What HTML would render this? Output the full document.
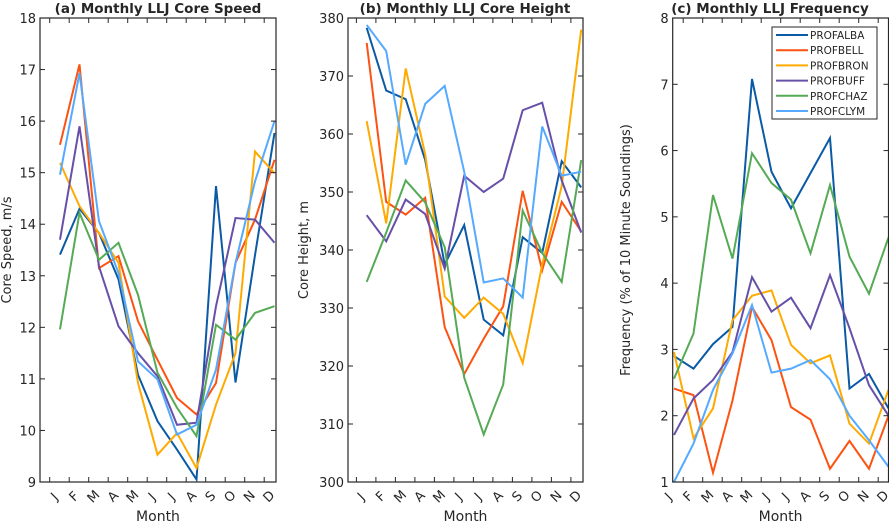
<!DOCTYPE html>
<html><head><meta charset="utf-8"><style>
body{margin:0;background:#fff;width:889px;height:524px;overflow:hidden}
svg text{font-family:"DejaVu Sans","Liberation Sans",sans-serif;fill:#262626}
</style></head><body>
<svg id="chart" width="889" height="524" xmlns="http://www.w3.org/2000/svg"></svg>
<script>
const months = ["J","F","M","A","M","J","J","A","S","O","N","D"];
const stations = ["PROFALBA","PROFBELL","PROFBRON","PROFBUFF","PROFCHAZ","PROFCLYM"];
const colors = ["#0b5aa5","#fc5212","#ffaa00","#6650a8","#55aa55","#55aaff"];
const speedALBA = [13.41,14.30,13.83,12.93,11.08,10.18,9.63,9.05,14.74,10.93,13.4,15.77];
const speedBELL = [15.54,17.10,13.15,13.38,12.12,11.37,10.63,10.31,10.92,13.25,14.09,15.25];
const speedBRON = [15.19,14.35,13.83,13.25,10.92,9.53,9.95,9.27,10.5,11.5,15.41,14.99];
const speedBUFF = [13.70,15.90,13.18,12.02,11.50,11.05,10.11,10.15,12.41,14.12,14.09,13.64];
const speedCHAZ = [11.96,14.22,13.31,13.64,12.63,11.12,10.44,9.89,12.05,11.76,12.28,12.41];
const speedCLYM = [14.96,16.93,14.06,13.05,11.34,10.99,9.92,10.11,11.18,13.25,14.83,16.0];
const heightALBA = [378.3,367.5,366,355.5,337.5,344.3,328,325.3,342.2,339.5,355.3,350.8];
const heightBELL = [375.7,348.3,346.1,349,326.7,318.6,324.7,330.3,350.2,336.5,348.3,343.2];
const heightBRON = [362.2,344.6,371.3,356.5,332,328.3,331.8,329,320.5,337.5,351,378];
const heightBUFF = [346,341.5,348.7,346.2,336.8,352.8,350,352.3,364.1,365.4,352,343];
const heightCHAZ = [334.5,343,352,348.2,340.5,318,308.2,316.8,346.8,339.5,334.5,355.5];
const heightCLYM = [378.8,374.3,354.7,365.2,368.3,353.5,334.4,335.1,331.8,361.3,352.8,353.5];
const freqALBA = [2.90,2.71,3.08,3.34,7.08,5.68,5.13,5.66,6.19,2.41,2.63,2.11];
const freqBELL = [2.41,2.31,1.14,2.23,3.64,3.14,2.13,1.94,1.20,1.62,1.20,2.0];
const freqBRON = [2.96,1.66,2.11,3.44,3.81,3.89,3.07,2.79,2.91,1.88,1.58,2.39];
const freqBUFF = [1.71,2.26,2.54,2.96,4.09,3.57,3.78,3.32,4.12,3.32,2.46,2.0];
const freqCHAZ = [2.56,3.24,5.33,4.37,5.96,5.51,5.26,4.45,5.48,4.40,3.84,4.69];
const freqCLYM = [1.0,1.58,2.39,2.94,3.67,2.65,2.71,2.84,2.55,2.0,1.63,1.23];
const speedTicks = [9,10,11,12,13,14,15,16,17,18];
const heightTicks = [300,310,320,330,340,350,360,370,380];
const freqTicks = [1,2,3,4,5,6,7,8];

const NS="http://www.w3.org/2000/svg";
const svg=document.getElementById('chart');
function mk(tag,attrs,parent){const e=document.createElementNS(NS,tag);for(const k in attrs)e.setAttribute(k,attrs[k]);(parent||svg).appendChild(e);return e;}

function panel(cfg){
  const g=mk('g',{});
  
  
  const top=18,bot=482;
  const y=v=>bot-(v-cfg.ymin)/(cfg.ymax-cfg.ymin)*(bot-top);
  const x=i=>cfg.x0+19.5*i;
  cfg.series.forEach((s,si)=>{
    const p=mk('polyline',{points:s.map((v,i)=>x(i)+','+y(v)).join(' '),fill:'none',stroke:colors[si],'stroke-width':2,'stroke-linejoin':'miter'},g);
    
    
  });
  const box=mk('rect',{x:cfg.left,y:top,width:cfg.right-cfg.left,height:bot-top,fill:'none',stroke:'#262626','stroke-width':1.2},g);
  
  
  for(let k=-1;k<=12;k++){
    const tx=cfg.x0-10.3+19.5*k;
    if(tx<=cfg.left+1||tx>=cfg.right-1)continue;
    mk('line',{x1:tx,x2:tx,y1:bot,y2:bot-5,stroke:'#262626'},g);
    mk('line',{x1:tx,x2:tx,y1:top,y2:top+5,stroke:'#262626'},g);
  }
  months.forEach((m,i)=>{
    const lx=x(i)-5, ly=497;
    const t=mk('text',{x:lx,y:ly,'font-size':13,'text-anchor':'middle','dominant-baseline':'middle',transform:`rotate(-45 ${lx} ${ly})`},g);
    t.textContent=m;
    
    
  });
  cfg.ticks.forEach(v=>{
    const ty=y(v);
    mk('line',{x1:cfg.left,x2:cfg.left+5,y1:ty,y2:ty,stroke:'#262626'},g);
    mk('line',{x1:cfg.right,x2:cfg.right-5,y1:ty,y2:ty,stroke:'#262626'},g);
    const t=mk('text',{x:cfg.left-4,y:ty+5,'font-size':13,'text-anchor':'end'},g);
    t.textContent=v;
    
    
  });
  const xt=mk('text',{x:(cfg.left+cfg.right)/2,y:521,'font-size':14,'text-anchor':'middle'},g);
  xt.textContent='Month';
  
  
  const yt=mk('text',{x:cfg.ylx,y:250,'font-size':13,'text-anchor':'middle',transform:`rotate(-90 ${cfg.ylx} 250)`},g);
  yt.textContent=cfg.ylabel;
  
  
  const tt=mk('text',{x:cfg.tx,y:13,'font-size':13.5,'font-weight':'bold','text-anchor':'middle',fill:'#000'},g);
  tt.textContent=cfg.title;
  
  
}

panel({name:'panel-core-speed',key:'speed',left:40,right:276,x0:60,ymin:9,ymax:18,ticks:speedTicks,
  series:[speedALBA,speedBELL,speedBRON,speedBUFF,speedCHAZ,speedCLYM],ylabel:'Core Speed, m/s',ylx:11,title:'(a) Monthly LLJ Core Speed',tx:158});
panel({name:'panel-core-height',key:'height',left:348,right:583,x0:366.7,ymin:300,ymax:380,ticks:heightTicks,
  series:[heightALBA,heightBELL,heightBRON,heightBUFF,heightCHAZ,heightCLYM],ylabel:'Core Height, m',ylx:308,title:'(b) Monthly LLJ Core Height',tx:465});
panel({name:'panel-frequency',key:'freq',left:672.7,right:888.5,x0:674,ymin:1,ymax:8,ticks:freqTicks,
  series:[freqALBA,freqBELL,freqBRON,freqBUFF,freqCHAZ,freqCLYM],ylabel:'Frequency (% of 10 Minute Soundings)',ylx:630,title:'(c) Monthly LLJ Frequency',tx:770});

const lg=mk('g',{});


mk('rect',{x:772,y:27,width:105,height:92,fill:'#fff',stroke:'#262626','stroke-width':1},lg);
stations.forEach((s,i)=>{
  const ly=35+15.2*i;
  const ent=mk('g',{},lg);
  
  
  mk('line',{x1:776,x2:808,y1:ly,y2:ly,stroke:colors[i],'stroke-width':2},ent);
  const t=mk('text',{x:810,y:ly+4,'font-size':10.5},ent);
  t.textContent=s;
});
</script>
</body></html>
